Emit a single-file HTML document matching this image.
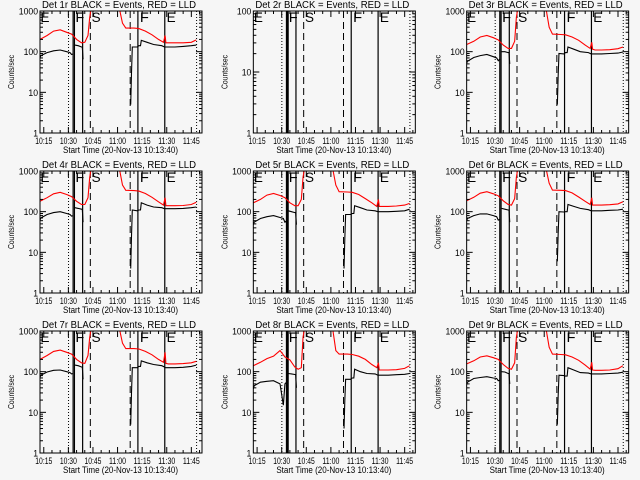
<!DOCTYPE html>
<html><head><meta charset="utf-8"><style>
body{margin:0;background:#f6f6f6}
svg{display:block}
text{font-family:"Liberation Sans",sans-serif;fill:#000}
</style></head><body>
<svg id="chart" width="640" height="480" viewBox="0 0 640 480" xmlns="http://www.w3.org/2000/svg">
<rect width="640" height="480" fill="#f6f6f6"/>
</svg>
<script>
// shared time axes (minutes after 10:15)
const redTimes = [-2.3,2,6,10,14,17,20,23,25,27,28,29,30,44,46,48,50,55,58,62,66,70,73,74,74.5,76,80,85,90,93];
const blackTimes = [-2.3,-1.8,2,6,10,14,16,17,18,18.5,19,21,23,23.5,24,40,53,53.5,54,57,58,59,59.5,63,67,72,73.6,74,80,85,90,93];
const xTickLabels = ["10:15","10:30","10:45","11:00","11:15","11:30","11:45"];
const xTickValues = [0,15,30,45,60,75,90];
const lineTimes = [15.1,17.9,18.7,23.7,28.4,52.7,57.4,73.8,93.2];
const lineStyles = ["dot","solid","solid","solid","dash","dash","solid","solid","dot"];
const zoneLabels = ["E","F","S","F","E"];
const zoneTimes = [-2.0,19.3,29.2,58.6,74.9];
const panelNames = ["Det 1r","Det 2r","Det 3r","Det 4r","Det 5r","Det 6r","Det 7r","Det 8r","Det 9r"];
const red1 = [200,250,320,345,300,270,200,165,170,250,700,1200,3000,3000,1200,500,380,380,370,320,260,200,170,250,165,165,165,165,170,195];
const black1 = [70,80,95,105,110,100,95,85,88,null,145,140,130,130,65,null,5,30,130,130,140,140,190,170,150,140,130,130,130,135,140,145];
const red2 = [];
const black2 = [];
const red3 = [150,180,230,250,220,195,145,120,120,180,700,1200,3000,3000,1200,400,270,265,260,230,190,145,120,170,115,110,110,112,118,130];
const black3 = [52,58,72,80,85,75,70,60,66,null,100,100,95,95,50,null,5,25,90,88,95,95,130,115,100,95,88,88,88,90,92,98];
const red4 = [180,220,275,300,265,235,180,150,150,220,700,1200,3000,3000,1200,450,335,330,320,280,225,175,145,220,140,140,140,142,150,170];
const black4 = [62,70,85,95,100,90,85,78,80,null,125,120,115,115,55,null,4,25,110,105,110,110,165,145,130,125,118,118,118,120,125,130];
const red5 = [165,200,255,280,250,220,165,140,140,200,700,1200,3000,3000,1200,450,310,305,300,265,210,165,135,200,135,135,135,138,145,160];
const black5 = [48,55,68,75,80,72,68,55,60,null,105,100,95,95,48,null,4,22,85,85,90,90,140,125,110,105,100,100,100,102,105,115];
const red6 = [185,225,285,310,275,245,185,150,145,210,700,1200,3000,3000,1200,500,340,335,330,290,230,180,150,220,145,145,145,148,155,175];
const black6 = [60,68,80,88,88,80,75,62,65,null,120,115,110,110,55,null,6,28,100,98,100,100,150,135,120,112,105,105,105,108,110,115];
const red7 = [200,250,315,340,300,270,200,165,160,250,700,1200,3000,3000,1200,500,370,370,360,315,260,200,170,300,160,155,155,158,165,180];
const black7 = [72,82,98,108,110,100,95,88,90,null,145,140,130,130,65,null,5,30,125,125,135,135,185,165,150,140,130,125,125,128,135,145];
const red8 = [140,170,210,240,330,230,195,130,115,125,700,1200,3000,3000,1200,330,270,270,265,240,200,150,125,165,110,110,110,112,120,140];
const black8 = [38,45,55,58,60,50,15,50,55,null,90,88,85,85,40,null,4,20,65,65,70,70,115,100,90,88,82,82,82,84,86,90];
const red9 = [155,185,230,245,220,200,150,120,115,165,700,1200,3000,3000,1200,400,270,265,260,230,190,145,115,170,110,108,108,110,118,140];
const black9 = [48,55,68,72,75,70,68,60,62,null,100,98,90,90,50,null,5,25,82,80,78,78,125,110,95,92,88,88,88,90,92,97];
const redSeries = [red1,red2,red3,red4,red5,red6,red7,red8,red9];
const blackSeries = [black1,black2,black3,black4,black5,black6,black7,black8,black9];
const yMaxDecades = [3,2,3,3,3,3,3,3,3];
const thickPanels = [false,true,false,false,true,false,false,true,false];

const NS="http://www.w3.org/2000/svg";
const svg=document.getElementById('chart');
function mk(tag,attrs,parent){const e=document.createElementNS(NS,tag);for(const k in attrs)e.setAttribute(k,attrs[k]);parent.appendChild(e);return e;}
const BL=40,BR=202,BT=11,BB=133,T0=-2.3,T1=96.5;
function xs(t){return BL+(t-T0)/(T1-T0)*(BR-BL);}

for(let p=0;p<9;p++){
  const col=p%3,row=Math.floor(p/3);
  const g=mk('g',{transform:`translate(${(col*213.33).toFixed(2)},${row*160})`},svg);
  
  
  const dmax=yMaxDecades[p];
  const ys=v=>BB-Math.log10(v)/dmax*(BB-BT);
  const cid='clip'+p;
  const cp=mk('clipPath',{id:cid},g);mk('rect',{x:BL,y:BT,width:BR-BL,height:BB-BT},cp);
  const title=mk('text',{x:42,y:8,'font-size':'10',textLength:154,lengthAdjust:'spacingAndGlyphs'},g);
  title.textContent=panelNames[p]+" BLACK = Events, RED = LLD";
  
  
  lineTimes.forEach((t,i)=>{
    const st=lineStyles[i];
    const l=mk('line',{x1:xs(t),x2:xs(t),y1:BT,y2:BB,stroke:'#000','stroke-width':st==='solid'?1.2:1,'stroke-dasharray':st==='dot'?'1,2':(st==='dash'?'7,4':'none')},g);
    
    
  });
  if(thickPanels[p]){
    const r=mk('rect',{x:xs(lineTimes[1]),y:BT,width:xs(lineTimes[2])-xs(lineTimes[1])+1,height:BB-BT,fill:'#000'},g);
    
    
  }
  zoneLabels.forEach((s,i)=>{
    const t=mk('text',{x:xs(zoneTimes[i]),y:BT+11,'font-size':'14',textLength:9,lengthAdjust:'spacingAndGlyphs'},g);
    t.textContent=s;
    
    
  });
  function drawSeries(times,vals,color,name){
    let segs=[],cur=[];
    vals.forEach((v,i)=>{ if(v===null){if(cur.length)segs.push(cur);cur=[];} else cur.push(xs(times[i]).toFixed(1)+','+ys(v).toFixed(1)); });
    if(cur.length)segs.push(cur);
    segs.forEach(s=>{
      const pl=mk('polyline',{points:s.join(' '),fill:'none',stroke:color,'stroke-width':1.1,'clip-path':`url(#${cid})`},g);
      
      
    });
  }
  drawSeries(redTimes,redSeries[p],'#ff0000','lld-series');
  drawSeries(blackTimes,blackSeries[p],'#000','events-series');
  const box=mk('rect',{x:BL,y:BT,width:BR-BL,height:BB-BT,fill:'none',stroke:'#000','stroke-width':1},g);
  
  
  for(let d=0;d<=dmax;d++){
    const y=ys(Math.pow(10,d));
    mk('line',{x1:BL,x2:BL+6,y1:y,y2:y,stroke:'#000'},g);
    mk('line',{x1:BR,x2:BR-6,y1:y,y2:y,stroke:'#000'},g);
    const s=String(Math.pow(10,d));
    const lb=mk('text',{x:BL-2,y:y+3.5,'font-size':'9','text-anchor':'end',textLength:s.length*4.8,lengthAdjust:'spacingAndGlyphs'},g);
    lb.textContent=s;
    
    
    if(d<dmax)for(let m=2;m<10;m++){const yy=ys(m*Math.pow(10,d));
      mk('line',{x1:BL,x2:BL+3,y1:yy,y2:yy,stroke:'#000'},g);
      mk('line',{x1:BR,x2:BR-3,y1:yy,y2:yy,stroke:'#000'},g);}
  }
  const yl=mk('text',{transform:`translate(14,${(BT+BB)/2}) rotate(-90)`,'font-size':'8.5','text-anchor':'middle',textLength:34,lengthAdjust:'spacingAndGlyphs'},g);
  yl.textContent="Counts/sec";
  
  
  for(let t=0;t<=95;t+=5){
    const x=xs(t),maj=t%15===0;
    mk('line',{x1:x,x2:x,y1:BB,y2:BB-(maj?6:3),stroke:'#000'},g);
    mk('line',{x1:x,x2:x,y1:BT,y2:BT+(maj?6:3),stroke:'#000'},g);
  }
  xTickValues.forEach((t,i)=>{
    const lb=mk('text',{x:xs(t),y:BB+11,'font-size':'9','text-anchor':'middle',textLength:17,lengthAdjust:'spacingAndGlyphs'},g);
    lb.textContent=xTickLabels[i];
    
    
  });
  const xt=mk('text',{x:63,y:BB+20,'font-size':'9',textLength:115,lengthAdjust:'spacingAndGlyphs'},g);
  xt.textContent="Start Time (20-Nov-13 10:13:40)";
  
  
}
</script>
</body></html>
